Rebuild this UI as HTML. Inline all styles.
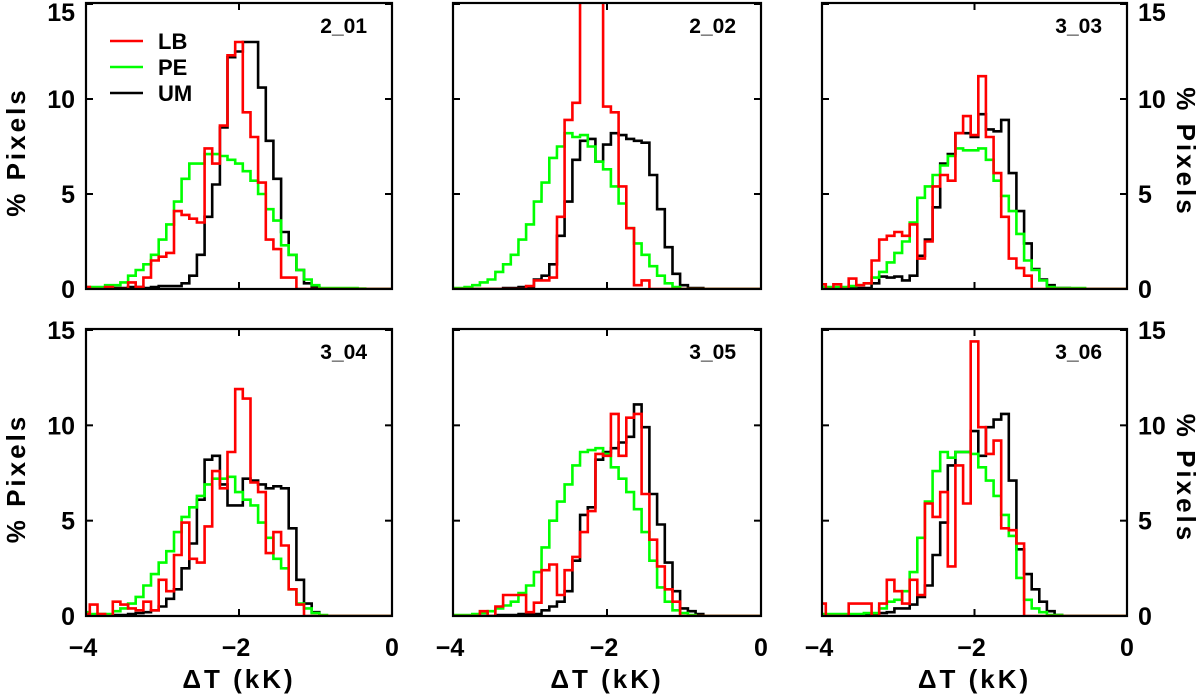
<!DOCTYPE html>
<html><head><meta charset="utf-8"><style>
body{margin:0;background:#fff;}
svg{display:block;}
.tl{font-family:"Liberation Sans",sans-serif;font-weight:bold;font-size:25px;fill:#000;}
.at{font-family:"Liberation Sans",sans-serif;font-weight:bold;font-size:26px;fill:#000;letter-spacing:3px;}
.pn{font-family:"Liberation Sans",sans-serif;font-weight:bold;font-size:21px;fill:#000;}
.lg{font-family:"Liberation Sans",sans-serif;font-weight:bold;font-size:22px;fill:#000;}
</style></head><body>
<svg id="fig" width="1200" height="697" viewBox="0 0 1200 697" xmlns="http://www.w3.org/2000/svg"></svg>
<script>
const panelNames = ["2_01","2_02","3_03","3_04","3_05","3_06"];
const xTicks = [-4,-2,0];
const xTickLabels = ["\u22124","\u22122","0"];
const yTicks = [0,5,10,15];
const yTickLabels = ["0","5","10","15"];
const seriesNames = ["UM","PE","LB"];
const binStart = -4.0, binWidth = 0.1;
const lb_201 = [0.1,0,0,0.1,0,0,0.35,0.1,0.6,1.5,1.7,1.9,4.1,3.9,3.7,3.5,7.4,6.6,8.6,12.3,13.0,9.3,8.0,5.6,2.6,2.1,0.6,0.6,0,0,0,0,0,0,0,0,0,0,0,0,0];
const pe_201 = [0.1,0.1,0.1,0.2,0.2,0.35,0.7,1.0,1.3,1.8,2.6,3.4,4.6,5.8,6.6,6.6,7.1,7.1,7.0,6.8,6.6,6.2,5.7,5.0,4.2,3.6,2.3,1.8,1.0,0.5,0.2,0.05,0.05,0.05,0.05,0.05,0.02,0,0,0,0];
const um_201 = [0,0,0,0.05,0.05,0.05,0.1,0.1,0.05,0.1,0.15,0.15,0.15,0.3,0.7,1.8,3.8,5.5,8.5,12.2,12.5,13.0,13.0,10.6,7.8,5.8,3.0,1.8,1.0,0.3,0.1,0,0,0,0,0,0,0,0,0,0];
const lb_202 = [0,0,0,0,0,0,0,0,0,0,0.15,0.45,0.45,0.6,3.8,8.9,9.8,20,20,20,9.6,9.3,5.4,3.2,0.2,0.45,0,0,0,0,0,0,0,0,0,0,0,0,0,0,0];
const pe_202 = [0.05,0.05,0.1,0.2,0.35,0.5,0.9,1.3,1.8,2.6,3.4,4.6,5.6,6.9,7.5,8.2,8.0,8.1,7.5,6.7,6.3,5.4,4.5,3.2,2.4,1.8,1.2,0.7,0.3,0.1,0,0,0,0,0,0,0,0,0,0,0];
const um_202 = [0,0,0,0,0,0,0,0.05,0.05,0.1,0.1,0.5,0.7,1.3,2.8,4.6,6.8,7.8,7.9,6.7,7.6,8.2,8.1,7.9,7.8,7.7,6.0,4.2,2.2,0.8,0.2,0.05,0.05,0,0,0,0,0,0,0,0];
const lb_303 = [0.25,0,0.25,0,0.55,0.2,0.3,1.5,2.6,2.8,3.0,2.8,3.4,1.6,2.5,5.4,6.0,5.7,8.2,9.1,8.1,11.2,8.0,6.1,3.8,1.6,1.1,0.7,0,0,0,0,0,0,0,0,0,0,0,0,0];
const pe_303 = [0.1,0.1,0.1,0.1,0.15,0.2,0.3,0.6,0.9,1.4,1.9,2.5,3.5,4.8,5.4,6.0,6.5,7.0,7.4,7.3,7.3,7.4,6.8,5.7,4.9,4.1,2.9,1.5,1.0,0.45,0.1,0.05,0.05,0.05,0.05,0,0,0,0,0,0];
const um_303 = [0.05,0.05,0.05,0.05,0.05,0.05,0.05,0.3,0.65,0.6,0.65,0.45,0.7,1.75,2.6,4.3,6.6,7.1,8.2,8.2,8.0,9.2,8.4,8.3,8.9,6.1,4.1,2.4,1.05,0.5,0.2,0.05,0.05,0,0,0,0,0,0,0,0];
const lb_304 = [0.1,0.6,0.1,0,0.75,0.6,0.4,0.3,0.75,0.3,1.9,1.3,3.2,4.9,3.0,2.8,4.7,7.6,6.7,8.6,11.9,11.4,7.0,6.5,3.3,4.4,3.7,1.4,0.6,0,0,0,0,0,0,0,0,0,0,0,0];
const pe_304 = [0.2,0.1,0.1,0.1,0.25,0.4,0.65,1.0,1.6,2.2,2.8,3.4,4.4,5.2,5.7,6.3,6.9,7.2,7.2,7.3,6.5,6.1,5.8,4.9,4.1,3.0,2.5,1.4,0.65,0.4,0.15,0.05,0,0,0,0,0,0,0,0,0];
const um_304 = [0.05,0.05,0.05,0.05,0.05,0.05,0.1,0.15,0.2,0.3,0.5,0.9,1.4,2.5,3.8,6.1,8.2,8.4,6.9,5.8,5.8,7.2,7.1,6.9,6.7,6.8,6.7,4.6,1.9,0.65,0.2,0,0,0,0,0,0,0,0,0,0];
const lb_305 = [0,0,0,0,0.25,0,0.5,1.1,1.1,1.1,0.2,0.7,2.4,2.7,1.1,2.4,3.1,4.4,5.5,8.5,8.4,10.6,8.4,10.4,10.6,6.4,4.0,2.6,1.4,0.75,0,0,0,0,0,0,0,0,0,0,0];
const pe_305 = [0.05,0.05,0.05,0.1,0.15,0.25,0.4,0.55,0.75,1.2,1.6,2.3,3.6,5.0,6.0,6.9,7.9,8.6,8.7,8.8,8.5,7.8,7.2,6.5,5.6,4.4,2.9,1.5,0.75,0.3,0.15,0.05,0,0,0,0,0,0,0,0,0];
const um_305 = [0,0,0,0,0,0,0.05,0.05,0.05,0.1,0.1,0.1,0.3,0.5,0.75,1.3,2.9,5.3,5.7,8.2,8.6,8.8,9.1,9.4,11.1,9.9,6.4,4.8,2.8,1.3,0.4,0.25,0.1,0,0,0,0,0,0,0,0];
const lb_306 = [0.65,0,0,0,0.65,0.65,0.65,0,0.65,1.9,1.3,0.65,1.9,1.1,5.9,5.2,6.5,2.6,7.9,5.9,14.4,9.9,8.5,9.2,4.6,4.5,3.8,0,0,0,0,0,0,0,0,0,0,0,0,0,0];
const pe_306 = [0.1,0.1,0.1,0.1,0.1,0.1,0.15,0.15,0.4,0.75,0.85,1.3,2.3,4.1,6.0,7.6,8.6,8.3,8.6,8.6,8.5,7.8,7.1,6.3,5.3,4.2,2.0,0.85,0.4,0.2,0.05,0.05,0,0,0,0,0,0,0,0,0];
const um_306 = [0.05,0.05,0.05,0.05,0.05,0.05,0.1,0.1,0.15,0.2,0.4,0.4,0.6,1.0,1.6,3.2,4.9,7.9,8.6,8.6,9.7,8.4,9.9,10.3,10.6,7.1,3.5,2.2,1.4,0.75,0.25,0.05,0,0,0,0,0,0,0,0,0];

const panelData = [[um_201,pe_201,lb_201],[um_202,pe_202,lb_202],[um_303,pe_303,lb_303],
                   [um_304,pe_304,lb_304],[um_305,pe_305,lb_305],[um_306,pe_306,lb_306]];
const colors = ["#000000","#00ff00","#ff0000"];
const colL = [86,453,822], colR = [392,761,1127];
const rowT = [3,329], rowB = [289,616];
const NS = "http://www.w3.org/2000/svg";
const svg = document.getElementById('fig');
function mk(tag, attrs, parent){ const e=document.createElementNS(NS,tag); for(const k in attrs) e.setAttribute(k,attrs[k]); (parent||svg).appendChild(e); return e; }

panelData.forEach((series, p) => {
  const c = p%3, r = Math.floor(p/3);
  const L=colL[c], R=colR[c], T=rowT[r], B=rowB[r];
  const xs = v => L + (v+4)/4*(R-L);
  const ys = v => B - v/15*(B-T-1);
  const g = mk('g',{});
  
  
  const clip = mk('clipPath',{id:'clip'+p},g);
  mk('rect',{x:L,y:T,width:R-L,height:B-T},clip);
  series.forEach((vals, s) => {
    let d='';
    vals.forEach((v,i)=>{
      const x0 = xs(binStart+binWidth*i-binWidth/2), x1 = xs(binStart+binWidth*i+binWidth/2);
      const y = ys(v);
      d += (i===0?'M':'L')+x0.toFixed(1)+','+y.toFixed(1)+'L'+x1.toFixed(1)+','+y.toFixed(1);
    });
    const path = mk('path',{d:d,fill:'none',stroke:colors[s],'stroke-width':2.6,'stroke-linejoin':'miter','clip-path':'url(#clip'+p+')'},g);
    
    
  });
  const box = mk('rect',{x:L,y:T,width:R-L,height:B-T,fill:'none',stroke:'#000','stroke-width':2.2},g);
  
  
  xTicks.forEach(t=>{
    const x=xs(t);
    mk('line',{x1:x,y1:B,x2:x,y2:B-7,stroke:'#000','stroke-width':2},g);
    mk('line',{x1:x,y1:T,x2:x,y2:T+7,stroke:'#000','stroke-width':2},g);
  });
  yTicks.forEach(t=>{
    const y=ys(t);
    mk('line',{x1:L,y1:y,x2:L+7,y2:y,stroke:'#000','stroke-width':2},g);
    mk('line',{x1:R,y1:y,x2:R-7,y2:y,stroke:'#000','stroke-width':2},g);
  });
  const pn = mk('text',{x:R-25,y:T+30,'text-anchor':'end',class:'pn'},g);
  pn.textContent = panelNames[p];
  
  
  if(c===0 || c===2){
    yTicks.forEach((t,i)=>{
      const tx = mk('text',{x: c===0 ? L-11 : R+11, y: Math.max(ys(t)+9, 21),'text-anchor': c===0?'end':'start',class:'tl'},g);
      tx.textContent = yTickLabels[i];
      
      
    });
    const cx = c===0 ? 16 : 1186, cy = (T+B)/2 + 6;
    const yt = mk('text',{x:cx,y:cy,'text-anchor':'middle','dominant-baseline':'central',class:'at',transform:'rotate('+(c===0?-90:90)+' '+cx+' '+cy+')'},g);
    yt.textContent = '% Pixels';
    
    
  }
  if(r===1){
    xTicks.forEach((t,i)=>{
      const tx = mk('text',{x:xs(t)-(i<2?3:0),y:656,'text-anchor':'middle',class:'tl'},g);
      tx.textContent = xTickLabels[i];
      
      
    });
    const xt = mk('text',{x:(L+R)/2,y:688,'text-anchor':'middle',class:'at'},g);
    xt.textContent = '\u0394T (kK)';
    
    
  }
  if(p===0){
    const legendLabels = ["LB","PE","UM"], legendColors=["#ff0000","#00ff00","#000000"], ly=[41,67,93];
    legendLabels.forEach((lab,i)=>{
      const lg = mk('g',{},g);
      
      
      mk('line',{x1:110,y1:ly[i],x2:143,y2:ly[i],stroke:legendColors[i],'stroke-width':2.6},lg);
      const t = mk('text',{x:158,y:ly[i]+8,class:'lg'},lg);
      t.textContent = lab;
    });
  }
});
</script>
</body></html>
